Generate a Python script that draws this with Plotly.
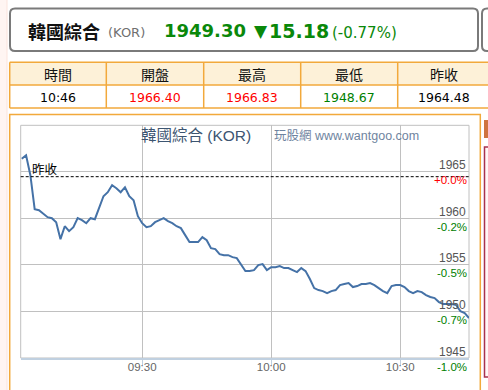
import plotly.graph_objects as go
import pandas as pd

# ---------------- data ----------------
name = "韓國綜合"
code = "(KOR)"
last_price = 1949.30
change = -15.18
change_pct = -0.77
table_headers = ["時間", "開盤", "最高", "最低", "昨收"]
table_values = ["10:46", "1966.40", "1966.83", "1948.67", "1964.48"]
table_colors = ["#000000", "#ff0000", "#ff0000", "#008000", "#000000"]
prev_close = 1964.48

times = pd.date_range("2000-01-01 09:02", "2000-01-01 10:46", freq="1min")
prices = [
    1966.40, 1966.78, 1964.64, 1960.99, 1960.88, 1960.45, 1960.13, 1960.02, 1959.59, 1957.77,
    1959.16, 1958.63, 1959.06, 1960.02, 1959.81, 1959.48, 1960.02, 1959.91, 1961.20, 1962.38,
    1962.81, 1963.56, 1963.24, 1962.81, 1963.35, 1962.38, 1961.95, 1960.24, 1959.48, 1959.06,
    1959.16, 1959.59, 1959.81, 1960.02, 1959.70, 1959.48, 1959.16, 1958.95, 1958.20, 1957.45,
    1957.45, 1957.45, 1957.98, 1957.66, 1956.80, 1956.70, 1956.16, 1956.05, 1956.05, 1955.84,
    1955.73, 1955.09, 1954.34, 1954.34, 1954.44, 1954.98, 1955.09, 1954.44, 1954.76, 1954.76,
    1954.87, 1954.66, 1954.66, 1954.44, 1954.23, 1954.66, 1954.34, 1953.48, 1952.51, 1952.30,
    1952.19, 1951.97, 1952.19, 1952.30, 1952.83, 1952.94, 1953.05, 1952.62, 1952.73, 1952.94,
    1952.94, 1953.05, 1952.83, 1952.51, 1952.19, 1951.97, 1952.73, 1952.83, 1952.83, 1952.62,
    1952.19, 1951.97, 1952.19, 1952.08, 1951.76, 1951.55, 1951.44, 1951.01, 1950.79, 1950.79,
    1950.79, 1950.69, 1950.04, 1949.83, 1949.30,
]
y_ticks = [1945, 1950, 1955, 1960, 1965]
x_tick_vals = ["2000-01-01 09:30", "2000-01-01 10:00", "2000-01-01 10:30"]
x_tick_text = ["09:30", "10:00", "10:30"]
chart_title = "韓國綜合 (KOR)"
watermark = "玩股網 www.wantgoo.com"
prev_label = "昨收"

# ---------------- layout helpers ----------------
W, H = 488, 390
def px(x):
    return x / W
def py(y):
    return 1 - y / H

PL, PR, PT, PB = 20.7, 469.0, 125.3, 358.0
LAT = "DejaVu Sans, Noto Sans CJK TC"
CHF = "Liberation Sans, Noto Sans CJK TC"
CJK = "Noto Sans CJK TC"
GREEN = "#0a880a"

fig = go.Figure()
fig.add_trace(go.Scatter(
    x=times, y=prices, mode="lines",
    line=dict(color="#4572a7", width=2),
    hoverinfo="skip", showlegend=False,
))

shapes = []
ann = []

# left pink strip
shapes.append(dict(type="rect", xref="paper", yref="paper", x0=px(0), x1=px(7), y0=py(390), y1=py(0),
                   fillcolor="#fff5f2", line=dict(width=0), layer="below"))
shapes.append(dict(type="line", xref="paper", yref="paper", x0=px(7), x1=px(7), y0=py(390), y1=py(0),
                   line=dict(color="#fbe3dc", width=1), layer="below"))

# header rounded box
def rbox(x0, y0, x1, y1, r, color, width, fill="rgba(0,0,0,0)"):
    rx, ry = r / W, r / H
    X0, X1, Y0, Y1 = px(x0), px(x1), py(y0), py(y1)
    path = (f"M {X0+rx},{Y0} L {X1-rx},{Y0} Q {X1},{Y0} {X1},{Y0-ry} "
            f"L {X1},{Y1+ry} Q {X1},{Y1} {X1-rx},{Y1} L {X0+rx},{Y1} "
            f"Q {X0},{Y1} {X0},{Y1+ry} L {X0},{Y0-ry} Q {X0},{Y0} {X0+rx},{Y0} Z")
    return dict(type="path", xref="paper", yref="paper", path=path,
                line=dict(color=color, width=width), fillcolor=fill)

shapes.append(rbox(10, 8.5, 478, 51, 5, "#7a7a7a", 2))
shapes.append(rbox(482, 8.5, 520, 51, 5, "#7a7a7a", 2))

ann.append(dict(x=px(26), y=py(31), xref="paper", yref="paper", xanchor="left", yanchor="middle",
                text=f"<b>{name}</b>", showarrow=False, font=dict(family=CJK, size=18, color="#111111")))
ann.append(dict(x=px(106), y=py(32), xref="paper", yref="paper", xanchor="left", yanchor="middle",
                text=code, showarrow=False, font=dict(family=LAT, size=13, color="#707070")))
ann.append(dict(x=px(162), y=py(31), xref="paper", yref="paper", xanchor="left", yanchor="middle",
                text=f"<b>{last_price:.2f}</b>", showarrow=False, font=dict(family=LAT, size=18, color=GREEN)))
ann.append(dict(x=px(252), y=py(31), xref="paper", yref="paper", xanchor="left", yanchor="middle",
                text=("<b>▼</b>" if change < 0 else "<b>▲</b>"), showarrow=False,
                font=dict(family=LAT, size=17, color=GREEN)))
ann.append(dict(x=px(267), y=py(31), xref="paper", yref="paper", xanchor="left", yanchor="middle",
                text=f"<b>{abs(change):.2f}</b>", showarrow=False, font=dict(family=LAT, size=19, color=GREEN)))
ann.append(dict(x=px(330), y=py(33), xref="paper", yref="paper", xanchor="left", yanchor="middle",
                text=f"({change_pct:.2f}%)", showarrow=False, font=dict(family=LAT, size=15, color=GREEN)))

# table
ORANGE = "#f2a93b"
col_x = [9.7, 106.3, 203.7, 300.7, 397.7, 492]
row_y = [62.3, 85.0, 108.0]
shapes.append(dict(type="rect", xref="paper", yref="paper", x0=px(col_x[0]), x1=px(col_x[-1]),
                   y0=py(row_y[1]), y1=py(row_y[0]), fillcolor="#fdf1d8", line=dict(width=0), layer="below"))
for yy in row_y:
    shapes.append(dict(type="line", xref="paper", yref="paper", x0=px(col_x[0]), x1=px(col_x[-1]),
                       y0=py(yy), y1=py(yy), line=dict(color=ORANGE, width=1.5)))
for xx in col_x[:-1]:
    shapes.append(dict(type="line", xref="paper", yref="paper", x0=px(xx), x1=px(xx),
                       y0=py(row_y[0]), y1=py(row_y[2]), line=dict(color=ORANGE, width=1.5)))
centers = [58, 155, 252, 349, 444]
for cx, htxt, vtxt, vc in zip(centers, table_headers, table_values, table_colors):
    ann.append(dict(x=px(cx), y=py(73.8), xref="paper", yref="paper", xanchor="center", yanchor="middle",
                    text=htxt, showarrow=False, font=dict(family=CJK, size=14, color="#111111")))
    ann.append(dict(x=px(cx), y=py(97), xref="paper", yref="paper", xanchor="center", yanchor="middle",
                    text=vtxt, showarrow=False, font=dict(family=LAT, size=12.5, color=vc)))

# chart container
shapes.append(dict(type="rect", xref="paper", yref="paper", x0=px(9.7), x1=px(480.3), y0=py(400), y1=py(114.5),
                   line=dict(color=ORANGE, width=1.5), fillcolor="rgba(0,0,0,0)"))
# right-side widgets
shapes.append(dict(type="rect", xref="paper", yref="paper", x0=px(484), x1=px(492), y0=py(138), y1=py(120),
                   fillcolor="#cf7440", line=dict(width=0)))
shapes.append(dict(type="rect", xref="paper", yref="paper", x0=px(484.5), x1=px(495), y0=py(377), y1=py(147),
                   fillcolor="#fff7f7", line=dict(color="#a8324e", width=1.5)))

# plot area border
shapes.append(dict(type="rect", xref="paper", yref="paper", x0=px(PL), x1=px(PR), y0=py(PB), y1=py(PT),
                   line=dict(color="#c0c0c0", width=1), fillcolor="rgba(0,0,0,0)", layer="below"))
# previous close dashed line
shapes.append(dict(type="line", xref="x domain", yref="y", x0=0, x1=1, y0=prev_close, y1=prev_close,
                   line=dict(color="#000000", width=1, dash="3px,2px")))

ann.append(dict(x=px(29.5), y=prev_close, xref="paper", yref="y", xanchor="left", yanchor="middle", yshift=8,
                text=prev_label, showarrow=False, font=dict(family=CJK, size=12.5, color="#000000")))

# y labels (value above grid line, percent below)
for v in y_ticks:
    ann.append(dict(x=px(468), y=v, xref="paper", yref="y", xanchor="right", yanchor="middle", yshift=6.5,
                    text=str(v), showarrow=False, font=dict(family=CHF, size=12, color="#555555")))
    pct = (v - prev_close) / prev_close * 100
    ptxt = f"{pct:+.1f}%"
    ann.append(dict(x=px(468.5), y=v, xref="paper", yref="y", xanchor="right", yanchor="middle", yshift=-8.5,
                    text=ptxt, showarrow=False,
                    font=dict(family=CHF, size=11.5, color="#ff0000" if pct >= 0 else "#008000")))

# title and watermark
ann.append(dict(x=px(196), y=py(135.5), xref="paper", yref="paper", xanchor="center", yanchor="middle",
                text=chart_title, showarrow=False, font=dict(family=CHF, size=15.5, color="#3d5571")))
ann.append(dict(x=px(271.5), y=py(136), xref="paper", yref="paper", xanchor="left", yanchor="middle",
                text=watermark, showarrow=False, font=dict(family=CHF, size=12.5, color="#6f84a0")))

fig.update_layout(
    width=W, height=H,
    margin=dict(l=0, r=0, t=0, b=0),
    paper_bgcolor="#ffffff", plot_bgcolor="#ffffff",
    showlegend=False,
    shapes=shapes, annotations=ann,
    xaxis=dict(
        domain=[px(PL), px(PR)], type="date",
        range=["2000-01-01 09:01:45", "2000-01-01 10:46:00"],
        tickmode="array", tickvals=x_tick_vals, ticktext=x_tick_text,
        tickfont=dict(family=CHF, size=11.5, color="#666666"),
        ticks="outside", ticklen=5, tickcolor="#c0d0e0", tickwidth=1,
        ticklabelstandoff=-8,
        showgrid=True, gridcolor="#c0c0c0", gridwidth=1,
        showline=True, linecolor="#c0d0e0", linewidth=2,
        zeroline=False, fixedrange=True,
    ),
    yaxis=dict(
        domain=[py(PB), py(PT)], range=[1945, 1970],
        tickmode="array", tickvals=y_ticks, showticklabels=False,
        showgrid=True, gridcolor="#c0c0c0", gridwidth=1,
        zeroline=False, showline=False, fixedrange=True,
    ),
    hovermode=False,
)

fig.write_html("out.html", config={"displayModeBar": False, "staticPlot": True},
               post_script="document.body.style.margin='0';document.body.style.overflow='hidden';")
